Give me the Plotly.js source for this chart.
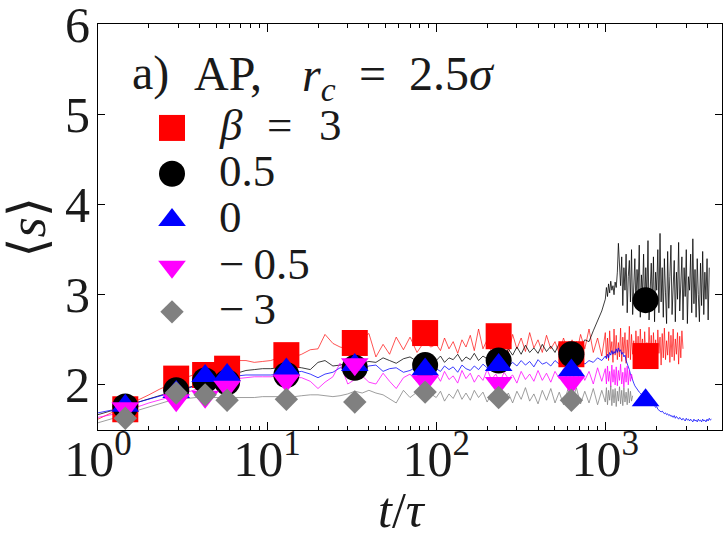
<!DOCTYPE html>
<html><head><meta charset="utf-8">
<script src="https://cdn.plot.ly/plotly-3.0.1.min.js"></script>
<style>html,body{margin:0;padding:0;background:#fff}</style>
</head><body><div id="chart" style="width:725px;height:538px"></div>
<script>
// time grid of the simulation curves (t / tau)
const T = [1,1.2,1.4,1.6,1.8,2,2.3,2.6,3,3.4,3.8,4.3,4.8,5.4,6,6.7,7.5,8.4,9.4,
  10.5,11.7,13,14.5,16,18,20,22,24.5,27,30,33,36.5,40,44,48.5,53,58,64,70,77,85,93,
  100,106,112,119,126,134,142,150,159,168,178,189,200,212,225,238,252,267,283,300,
  318,337,357,378,400,424,449,476,504,534,566,600,636,674,714,756,801,849,900,953,
  1000,1015,1030,1045,1061,1077,1093,1110,1126,1143,1160,1178,1195,1213,1231,1250,1269,1288,1307,1327,
  1347,1367,1387,1408,1429,1451,1473,1495,1517,1540,1563,1587,1610,1635,1659,1684,1709,1735,1761,1788,
  1814,1842,1869,1897,1926,1955,1984,2014,2044,2075,2106,2138,2170,2202,2235,2269,2303,2337,2373,2408,
  2444,2481,2518,2556,2594,2633,2673,2713,2754,2795,2837,2880,2923,2967,3011,3057,3102,3149,3196,3244,
  3293,3342,3392,3443,3495,3547,3601,3655,3709,3765,3822,3879,3937,3996,4056,4117,4179,4242];

const lineRed = [1.62,1.69,1.75,1.80,1.85,1.89,1.95,2.00,2.05,2.09,2.12,2.15,2.18,2.21,2.24,2.27,2.27,2.25,2.26,
  2.27,2.30,2.32,2.31,2.34,2.39,2.40,2.56,2.46,2.42,2.40,2.43,2.52,2.57,2.31,2.45,2.34,2.53,2.39,2.53,2.36,2.48,2.42,
  2.45,2.38,2.52,2.40,2.48,2.35,2.50,2.42,2.55,2.38,2.62,2.40,2.50,2.36,2.55,2.42,2.48,2.35,2.56,2.40,
  2.52,2.37,2.58,2.41,2.50,2.36,2.55,2.40,2.48,2.35,2.52,2.38,2.50,2.34,2.56,2.40,2.62,2.36,2.52,2.32,
  2.58,2.30,2.52,2.27,2.60,2.36,2.48,2.25,2.62,2.33,2.55,2.28,2.47,2.31,2.63,2.26,2.53,2.35,2.58,2.24,
  2.50,2.30,2.65,2.28,2.56,2.34,2.49,2.23,2.60,2.32,2.54,2.27,2.62,2.36,2.51,2.25,2.59,2.30,2.47,2.28,
  2.64,2.33,2.55,2.24,2.58,2.31,2.50,2.27,2.61,2.35,2.53,2.22,2.57,2.30,2.63,2.28,2.49,2.33,2.59,2.25,
  2.55,2.31,2.62,2.27,2.51,2.34,2.58,2.23,2.54,2.30,2.60,2.40];

const lineBlack = [1.67,1.71,1.75,1.79,1.82,1.85,1.88,1.91,1.94,1.97,2.00,2.03,2.06,2.08,2.11,2.14,2.16,2.17,2.18,
  2.18,2.19,2.17,2.20,2.19,2.17,2.25,2.27,2.21,2.22,2.24,2.25,2.24,2.26,2.25,2.30,2.27,2.24,2.29,2.31,2.26,2.28,2.25,
  2.27,2.32,2.25,2.30,2.28,2.34,2.26,2.31,2.28,2.35,2.27,2.32,2.29,2.36,2.30,2.34,2.31,2.40,2.33,2.42,
  2.34,2.44,2.36,2.41,2.35,2.45,2.37,2.43,2.36,2.46,2.38,2.44,2.39,2.48,2.42,2.50,2.48,2.60,2.72,2.82,
  2.95,3.08,2.98,3.12,3.02,3.15,3.05,3.10,3.00,3.14,3.08,3.25,3.57,3.35,3.10,3.42,2.88,3.30,3.05,3.45,
  2.80,3.20,3.38,2.92,3.50,2.78,3.15,3.40,2.85,3.28,3.05,3.55,2.75,3.22,3.00,3.45,2.82,3.30,2.95,3.60,
  2.72,3.18,3.35,2.88,3.42,2.70,3.25,3.05,3.50,2.80,3.68,2.92,3.30,2.75,3.40,3.02,2.68,3.48,2.85,3.20,
  3.55,2.78,3.10,3.38,2.70,3.25,2.95,3.58,2.82,3.15,3.42,2.72,3.30,2.98,3.50,2.68,3.20,3.05,3.45,2.80,
  3.62,2.90,3.28,2.75,3.40,3.00,2.70,3.35,2.88,3.48,2.78,3.25,2.95,3.40,2.72,3.30];

const lineBlue = [1.69,1.72,1.76,1.79,1.82,1.84,1.87,1.90,1.93,1.96,1.99,2.02,2.04,2.06,2.08,2.10,2.11,2.11,2.11,
  2.11,2.12,2.13,2.14,2.15,2.12,2.08,2.12,2.14,2.19,2.18,2.20,2.17,2.21,2.22,2.15,2.18,2.19,2.14,2.16,2.20,2.17,2.19,
  2.18,2.15,2.21,2.17,2.20,2.14,2.22,2.18,2.16,2.21,2.17,2.23,2.19,2.24,2.18,2.22,2.26,2.20,2.25,2.21,
  2.27,2.22,2.26,2.20,2.28,2.23,2.25,2.21,2.27,2.23,2.29,2.22,2.26,2.24,2.29,2.23,2.27,2.25,2.30,2.27,
  2.32,2.29,2.34,2.30,2.36,2.33,2.38,2.34,2.37,2.35,2.40,2.36,2.41,2.37,2.39,2.34,2.36,2.31,2.33,2.27,
  2.24,2.20,2.17,2.12,2.08,2.04,2.02,1.99,1.97,1.95,1.94,1.92,1.91,1.90,1.88,1.89,1.86,1.87,1.84,1.85,
  1.82,1.83,1.80,1.81,1.78,1.77,1.75,1.76,1.73,1.72,1.71,1.70,1.71,1.69,1.68,1.69,1.67,1.68,1.66,1.67,
  1.65,1.66,1.64,1.66,1.63,1.65,1.64,1.62,1.64,1.63,1.61,1.63,1.62,1.60,1.63,1.61,1.62,1.60,1.62,1.61,
  1.59,1.62,1.60,1.61,1.59,1.62,1.60,1.61,1.59,1.62,1.60,1.61,1.59,1.62,1.60,1.63,1.61,1.62];

const lineMagenta = [1.64,1.67,1.71,1.74,1.77,1.80,1.83,1.86,1.89,1.92,1.95,1.98,2.01,2.03,2.05,2.07,2.08,2.09,2.09,
  2.09,2.10,2.09,2.08,2.08,2.04,1.96,2.03,2.09,2.24,2.01,2.06,2.10,2.03,2.01,2.13,2.04,1.96,2.08,2.12,2.03,2.10,2.06,
  2.12,2.04,2.15,2.06,2.10,2.02,2.16,2.07,2.13,2.03,2.11,2.05,2.17,2.06,2.12,2.03,2.14,2.07,2.11,2.02,
  2.15,2.06,2.12,2.04,2.16,2.05,2.13,2.03,2.15,2.07,2.18,2.04,2.14,2.02,2.17,2.05,2.15,2.01,2.19,2.04,
  2.18,2.01,2.21,2.04,2.15,1.98,2.22,2.03,2.17,2.00,2.20,1.99,2.16,2.05,2.23,2.01,2.14,1.97,2.19,2.03,
  2.21,2.00,2.16,2.04,2.12,2.06];

const lineGray = [1.58,1.62,1.66,1.70,1.73,1.76,1.79,1.82,1.84,1.85,1.86,1.86,1.86,1.86,1.86,1.86,1.86,1.86,1.87,
  1.87,1.87,1.87,1.87,1.88,1.89,1.89,1.88,1.87,1.88,1.90,1.93,1.91,1.94,1.91,1.89,1.85,1.80,1.94,1.86,1.92,1.84,1.90,
  1.86,1.93,1.82,1.90,1.85,1.95,1.84,1.91,1.83,1.94,1.86,1.92,1.81,1.90,1.85,1.96,1.83,1.91,1.80,1.93,
  1.84,1.97,1.82,1.90,1.79,1.94,1.83,1.96,1.80,1.92,1.78,1.95,1.81,1.97,1.79,1.93,1.80,1.96,1.78,1.94,
  1.81,1.97,1.78,1.94,1.83,1.99,1.77,1.95,1.80,1.96,1.76,1.93,1.82,1.98,1.79,1.94,1.77,1.97,1.81,1.92,
  1.78,1.96,1.80,1.93,1.82,1.88];

// averaged points (markers)
const tMark = [1.45,2.9,4.3,5.8,13,33,86,234,630,1730];
const markRed = [1.73,2.07,2.11,2.18,2.33,2.465,2.575,2.54,2.34,2.32];
const markBlack = [1.76,1.94,2.05,2.03,2.11,2.19,2.22,2.27,2.34,2.94];
const markBlue = [1.77,1.92,2.10,2.11,2.17,2.22,2.17,2.22,2.16,1.83];
const markMagenta = [1.74,1.83,1.87,1.98,2.05,2.23,2.04,2.02,2.03];
const markGray = [1.63,1.91,1.89,1.83,1.84,1.81,1.92,1.86,1.83];

// legend / label texts
const legendLabels = [null,'0.5','0','\u2212\u20090.5','\u2212\u20093'];
const legendFirst = ['<i>β</i>', '=', '3'];
const titleParts = ['a)', 'AP,', '<i>r<sub>c</sub></i>', '=', '2.5<i>σ</i>'];
const xTickVals = [1,10,100,1000];
const xTickText = ['10<sup>0</sup>','10<sup>1</sup>','10<sup>2</sup>','10<sup>3</sup>'];
const xMinorVals = [2,3,4,5,6,7,8,9,20,30,40,50,60,70,80,90,200,300,400,500,600,700,800,900,2000,3000,4000];
const yTickVals = [2,3,4,5,6];

const FONT = '"Liberation Serif", "DejaVu Serif", serif';
const TXT = '#1a1a1a';

const series = [
  {vals: lineRed, marks: markRed, lc: 'rgba(255,0,0,0.75)', mc: '#ff0000', sym: 'square', size: 26},
  {vals: lineBlack, marks: markBlack, lc: 'rgba(0,0,0,0.85)', mc: '#000000', sym: 'circle', size: 26},
  {vals: lineBlue, marks: markBlue, lc: 'rgba(0,0,255,0.85)', mc: '#0000ff', sym: 'triangle-up', size: 24},
  {vals: lineMagenta, marks: markMagenta, lc: 'rgba(255,0,255,0.85)', mc: '#ff00ff', sym: 'triangle-down', size: 24},
  {vals: lineGray, marks: markGray, lc: 'rgba(128,128,128,0.85)', mc: '#808080', sym: 'diamond', size: 18}
];

const traces = [];
series.forEach(s => traces.push({
  x: T.slice(0, s.vals.length), y: s.vals, type: 'scatter', mode: 'lines',
  line: {color: s.lc, width: 0.9}, hoverinfo: 'skip', showlegend: false
}));
series.forEach(s => traces.push({
  x: tMark.slice(0, s.marks.length), y: s.marks, type: 'scatter', mode: 'markers',
  marker: {symbol: s.sym, size: s.size, color: s.mc, line: {width: 0}}, showlegend: false
}));

// hand-made legend on an overlaid unit axis
const legY = [0.744, 0.631, 0.517, 0.402, 0.291];
const legX = 0.1186;
series.forEach((s, i) => traces.push({
  x: [legX], y: [legY[i]], xaxis: 'x2', yaxis: 'y2', type: 'scatter', mode: 'markers',
  marker: {symbol: s.sym, size: s.size, color: s.mc, line: {width: 0}}, showlegend: false, hoverinfo: 'skip'
}));

function ann(text, x, y, size, extra) {
  return Object.assign({xref: 'paper', yref: 'paper', x: x, y: y, xanchor: 'left', yanchor: 'middle',
    text: text, showarrow: false, font: {family: FONT, size: size, color: TXT}}, extra || {});
}
const annotations = [];
const legTextX = 0.191;
const legFirstX = [0.191, 0.2676, 0.351];
legendFirst.forEach((t, j) => annotations.push(ann(t, legFirstX[j], legY[0] + 0.008, 45)));
legendLabels.forEach((t, i) => { if (t) annotations.push(ann(t, legTextX, legY[i] + 0.008, 45)); });

const titleX = [0.0513, 0.1506, 0.3237, 0.4151, 0.4952];
titleParts.forEach((t, j) => annotations.push(ann(t, titleX[j], 0.879, 48, j === 2 ? {yshift: -5} : {})));

annotations.push(ann('<i>t</i>/<i>τ</i>', 0.487, -0.197, 50, {xanchor: 'center'}));
annotations.push(ann('⟨<i>s</i>⟩', -0.114, 0.5, 52, {xanchor: 'center', textangle: -90}));

const layout = {
  width: 725, height: 538,
  margin: {l: 98, r: 3, t: 24, b: 108},
  paper_bgcolor: '#fff', plot_bgcolor: '#fff',
  showlegend: false,
  font: {family: FONT, color: TXT},
  xaxis: {
    type: 'log', range: [0, 3.69], showgrid: false, zeroline: false,
    showline: true, linecolor: '#000', linewidth: 1, mirror: 'ticks',
    tickmode: 'array', tickvals: xTickVals, ticktext: xTickText,
    ticks: 'inside', ticklen: 8, tickcolor: '#000', tickwidth: 1,
    ticklabelstandoff: -15, ticklabeloverflow: 'allow',
    tickfont: {family: FONT, size: 50, color: TXT},
    minor: {tickmode: 'array', tickvals: xMinorVals, ticks: 'inside', ticklen: 4, tickcolor: '#000', showgrid: false}
  },
  yaxis: {
    range: [1.5, 6.002], showgrid: false, zeroline: false,
    showline: true, linecolor: '#000', linewidth: 1, mirror: 'ticks',
    tickmode: 'array', tickvals: yTickVals,
    ticks: 'inside', ticklen: 7, tickcolor: '#000', tickwidth: 1,
    ticklabelstandoff: -3, ticklabeloverflow: 'allow',
    tickfont: {family: FONT, size: 50, color: TXT}
  },
  xaxis2: {overlaying: 'x', range: [0, 1], visible: false, fixedrange: true},
  yaxis2: {overlaying: 'y', range: [0, 1], visible: false, fixedrange: true},
  annotations: annotations
};

Plotly.newPlot('chart', traces, layout, {displayModeBar: false, staticPlot: true});
</script></body></html>
